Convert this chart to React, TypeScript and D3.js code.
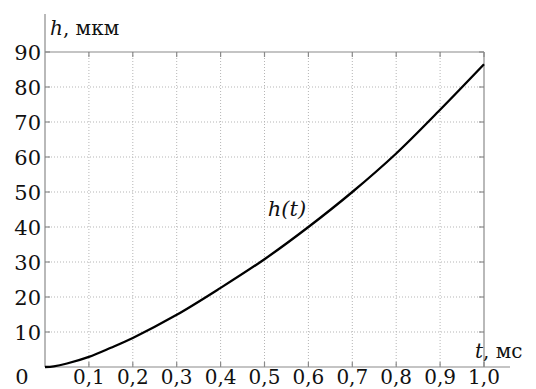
import { useEffect, useRef } from "react";
import * as d3 from "d3";

const timeMs = [0, 0.02, 0.05, 0.1, 0.15, 0.2, 0.3, 0.4, 0.5, 0.6, 0.7, 0.8, 0.9, 1.0];
const heightUm = [0, 0.2, 1.0, 2.9, 5.5, 8.3, 14.9, 22.6, 30.8, 40, 50, 61, 73.5, 86.5];
const xTicks = [0.1, 0.2, 0.3, 0.4, 0.5, 0.6, 0.7, 0.8, 0.9, 1.0];
const yTicks = [10, 20, 30, 40, 50, 60, 70, 80, 90];

export default function App() {
  const svgRef = useRef<SVGSVGElement>(null);

  useEffect(() => {
    if (!svgRef.current) return;
    const svg = d3.select(svgRef.current);
    svg.selectAll("*").remove();

    const width = 536;
    const height = 389;
    const left = 45;
    const right = 484;
    const top = 52;
    const bottom = 367;
    const font = "DejaVu Serif";
    const axisColor = "#8a8a8a";

    svg.attr("width", width).attr("height", height);
    svg.append("rect").attr("width", width).attr("height", height).attr("fill", "#fff");

    const x = d3.scaleLinear().domain([0, 1]).range([left, right]);
    const y = d3.scaleLinear().domain([0, 90]).range([bottom, top]);

    // grid
    const grid = svg.append("g").attr("stroke", "#b5b5b5").attr("stroke-dasharray", "1,2");
    xTicks.slice(0, -1).forEach((t) => {
      grid.append("line").attr("x1", x(t)).attr("x2", x(t)).attr("y1", top).attr("y2", bottom);
    });
    yTicks.slice(0, -1).forEach((v) => {
      grid.append("line").attr("x1", left).attr("x2", right).attr("y1", y(v)).attr("y2", y(v));
    });

    // frame + axes
    const frame = svg.append("g").attr("stroke", axisColor).attr("stroke-width", 1.2);
    frame.append("line").attr("x1", left).attr("x2", right).attr("y1", y(90)).attr("y2", y(90));
    frame.append("line").attr("x1", right).attr("x2", right).attr("y1", y(90)).attr("y2", bottom);
    frame.append("line").attr("x1", left).attr("x2", left).attr("y1", 14).attr("y2", bottom);
    frame.append("line").attr("x1", left).attr("x2", 510).attr("y1", bottom).attr("y2", bottom);

    // inward ticks
    xTicks.forEach((t) => {
      frame.append("line").attr("x1", x(t)).attr("x2", x(t)).attr("y1", bottom).attr("y2", bottom - 5);
      frame.append("line").attr("x1", x(t)).attr("x2", x(t)).attr("y1", y(90)).attr("y2", y(90) + 5);
    });
    yTicks.forEach((v) => {
      frame.append("line").attr("x1", left).attr("x2", left + 5).attr("y1", y(v)).attr("y2", y(v));
      frame.append("line").attr("x1", right).attr("x2", right - 5).attr("y1", y(v)).attr("y2", y(v));
    });

    // tick labels
    const labels = svg.append("g").attr("font-family", font).attr("fill", "#111");
    yTicks.forEach((v) => {
      labels.append("text").attr("x", left - 4).attr("y", y(v)).attr("dy", "0.36em")
        .attr("font-size", 21).attr("text-anchor", "end").text(String(v));
    });
    labels.append("text").attr("x", 22).attr("y", 384).attr("font-size", 21)
      .attr("text-anchor", "middle").text("0");
    xTicks.forEach((t) => {
      labels.append("text").attr("x", x(t)).attr("y", 384).attr("font-size", 20)
        .attr("text-anchor", "middle").text(t.toFixed(1).replace(".", ","));
    });

    // axis titles
    const yTitle = svg.append("text").attr("x", 50).attr("y", 35)
      .attr("font-family", font).attr("font-size", 20).attr("fill", "#111");
    yTitle.append("tspan").attr("font-style", "italic").text("h");
    yTitle.append("tspan").text(", мкм");

    const xTitle = svg.append("text").attr("x", 475).attr("y", 358)
      .attr("font-family", font).attr("font-size", 20).attr("fill", "#111");
    xTitle.append("tspan").attr("font-style", "italic").text("t");
    xTitle.append("tspan").text(", мс");

    // curve
    const pts = timeMs.map((t, i) => [t, heightUm[i]] as [number, number]);
    const line = d3.line<[number, number]>()
      .x((d) => x(d[0]))
      .y((d) => y(d[1]))
      .curve(d3.curveCatmullRom.alpha(0.5));
    svg.append("path").datum(pts).attr("fill", "none").attr("stroke", "#000")
      .attr("stroke-width", 2.3).attr("d", line);

    // curve label
    svg.append("text").attr("x", 287).attr("y", 216).attr("text-anchor", "middle")
      .attr("font-family", font).attr("font-size", 21).attr("font-style", "italic")
      .attr("fill", "#111").text("h(t)");
  }, []);

  return (
    <svg
      ref={svgRef}
      style={{ position: "absolute", left: 0, top: 0, display: "block" }}
      viewBox="0 0 536 389"
    />
  );
}
